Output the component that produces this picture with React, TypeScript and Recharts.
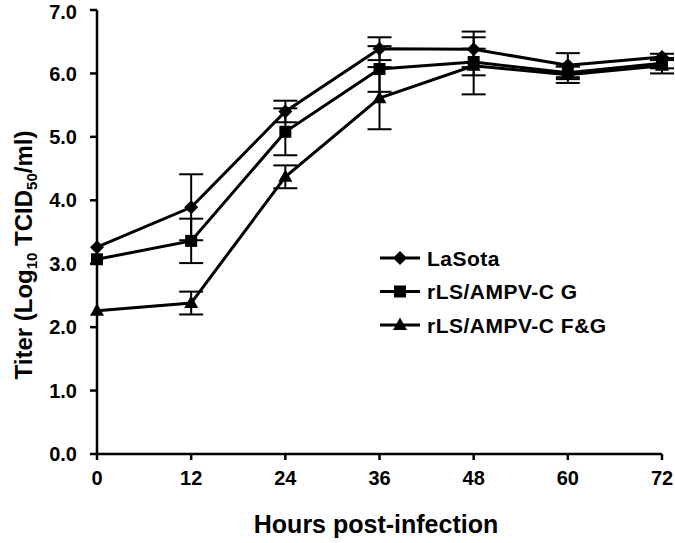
import React from "react";
import { LineChart, Line, XAxis, YAxis, ErrorBar, Label } from "recharts";

const hours = [0, 12, 24, 36, 48, 60, 72];
const lasota = [3.26, 3.89, 5.4, 6.39, 6.38, 6.13, 6.26];
const lasotaErr = [0, 0.52, 0.17, 0.18, 0.28, 0.19, 0.05];
const ampvG = [3.07, 3.36, 5.08, 6.07, 6.18, 6.01, 6.16];
const ampvGErr = [0, 0.35, 0.37, 0.36, 0.21, 0.1, 0.08];
const ampvFG = [2.26, 2.38, 4.37, 5.61, 6.12, 5.98, 6.12];
const ampvFGErr = [0, 0.18, 0.18, 0.49, 0.45, 0.13, 0.12];
const yTicks = [0, 1, 2, 3, 4, 5, 6, 7];
const seriesNames = ["LaSota", "rLS/AMPV-C G", "rLS/AMPV-C F&G"];

const data = hours.map((h, i) => ({
  h,
  a: lasota[i],
  aErr: lasotaErr[i],
  b: ampvG[i],
  bErr: ampvGErr[i],
  c: ampvFG[i],
  cErr: ampvFGErr[i],
}));

const FONT = "'Liberation Sans', Arial, Helvetica, sans-serif";

type Shape = "diamond" | "square" | "triangle";

function shapePath(shape: Shape, cx: number, cy: number): string {
  if (shape === "diamond") {
    const r = 7;
    return `M${cx},${cy - r}L${cx + r},${cy}L${cx},${cy + r}L${cx - r},${cy}Z`;
  }
  if (shape === "square") {
    const r = 6;
    return `M${cx - r},${cy - r}H${cx + r}V${cy + r}H${cx - r}Z`;
  }
  return `M${cx},${cy - 7.5}L${cx + 7},${cy + 5}L${cx - 7},${cy + 5}Z`;
}

const makeDot = (shape: Shape) => (props: any) => {
  const { cx, cy, index } = props;
  if (cx == null || cy == null) return <g key={`d-${shape}-${index}`} />;
  return <path key={`d-${shape}-${index}`} d={shapePath(shape, cx, cy)} fill="#000" stroke="none" />;
};

const shapes: Shape[] = ["diamond", "square", "triangle"];

const YTitle = () => (
  <text
    transform="translate(32,255) rotate(-90)"
    textAnchor="middle"
    fontFamily={FONT}
    fontWeight="bold"
    fontSize={24}
    fill="#000"
  >
    <tspan>Titer (Log</tspan>
    <tspan fontSize={15} dy={5}>10</tspan>
    <tspan dy={-5}> TCID</tspan>
    <tspan fontSize={15} dy={5}>50</tspan>
    <tspan dy={-5}>/ml)</tspan>
  </text>
);

const XTitle = () => (
  <text x={376} y={533} textAnchor="middle" fontFamily={FONT} fontWeight="bold" fontSize={25} fill="#000">
    Hours post-infection
  </text>
);

export default function App() {
  return (
    <div style={{ position: "absolute", left: 0, top: 0, width: 675, height: 543, background: "#fff" }}>
      <LineChart
        width={675}
        height={543}
        data={data}
        margin={{ top: 10, right: 13, bottom: 29, left: 0 }}
        style={{ overflow: "visible" }}
      >
        <XAxis
          dataKey="h"
          type="number"
          domain={[0, 72]}
          ticks={hours}
          height={60}
          tickSize={6}
          tickMargin={11}
          axisLine={{ stroke: "#000", strokeWidth: 2.5 }}
          tickLine={{ stroke: "#000", strokeWidth: 2.5 }}
          tick={{ fill: "#000", fontSize: 20, fontWeight: "bold", fontFamily: FONT }}
        >
          <Label content={() => <XTitle />} />
        </XAxis>
        <YAxis
          type="number"
          domain={[0, 7]}
          ticks={yTicks}
          width={97}
          tickSize={7}
          tickMargin={13}
          tickFormatter={(v: number) => v.toFixed(1)}
          axisLine={{ stroke: "#000", strokeWidth: 2.5 }}
          tickLine={{ stroke: "#000", strokeWidth: 2.5 }}
          tick={{ fill: "#000", fontSize: 20, fontWeight: "bold", fontFamily: FONT }}
        >
          <Label content={() => <YTitle />} />
        </YAxis>
        {["a", "b", "c"].map((k, i) => (
          <Line
            key={k}
            dataKey={k}
            name={seriesNames[i]}
            stroke="#000"
            strokeWidth={3}
            type="linear"
            dot={makeDot(shapes[i])}
            activeDot={false}
            isAnimationActive={false}
          >
            <ErrorBar dataKey={`${k}Err`} direction="y" width={12} stroke="#000" strokeWidth={2} />
          </Line>
        ))}
      </LineChart>
      <svg width={280} height={100} style={{ position: "absolute", left: 375, top: 240 }}>
        {seriesNames.map((n, i) => {
          const cy = 18 + i * 33.5;
          return (
            <g key={n}>
              <line x1={5} x2={45} y1={cy} y2={cy} stroke="#000" strokeWidth={3} />
              <path d={shapePath(shapes[i], 25, cy)} fill="#000" />
              <text
                x={52}
                y={cy + 7.5}
                fontFamily={FONT}
                fontWeight="bold"
                fontSize={21}
                letterSpacing={0.5}
                fill="#000"
              >
                {n}
              </text>
            </g>
          );
        })}
      </svg>
    </div>
  );
}
